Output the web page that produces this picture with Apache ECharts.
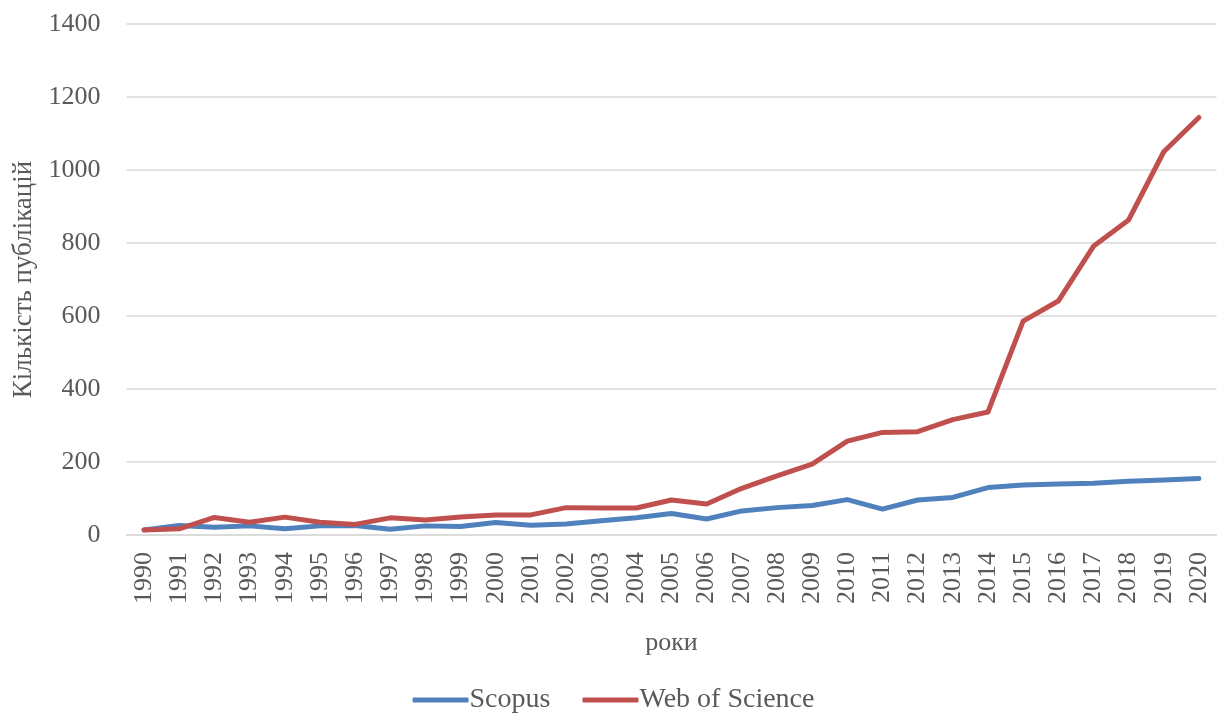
<!DOCTYPE html>
<html><head><meta charset="utf-8">
<script src="https://cdn.jsdelivr.net/npm/echarts@6/dist/echarts.min.js"></script>
<style>html,body{margin:0;padding:0;background:#fff}#c{width:1227px;height:713px}</style>
</head><body><div id="c"></div>
<script>
const years = ['1990','1991','1992','1993','1994','1995','1996','1997','1998','1999','2000','2001','2002','2003','2004','2005','2006','2007','2008','2009','2010','2011','2012','2013','2014','2015','2016','2017','2018','2019','2020'];
const scopus = [14,26,21,25,17,25,26,16,25,23,34,27,30,39,47,59,44,66,75,81,97,71,96,103,130,137,140,142,147,151,155];
const wos = [14,17,48,35,49,35,29,47,41,49,55,55,75,74,74,96,85,128,162,194,257,281,283,316,337,586,641,791,863,1050,1144];
const yTicks = {min:0, max:1400, interval:200};

const font = '"Liberation Serif", "Times New Roman", serif';
const chart = echarts.init(document.getElementById('c'));
chart.setOption({
  animation:false,
  backgroundColor:'#fff',
  grid:{left:126.5,right:10.5,top:24,bottom:178,containLabel:false,outerBoundsMode:'none'},
  legend:{top:681,left:'center',itemWidth:56,itemHeight:5,itemGap:32,icon:'roundRect',
    textStyle:{fontFamily:font,fontSize:28,color:'#595959',padding:[0,0,0,-4]},
    data:['Scopus','Web of Science']},
  xAxis:{type:'category',data:years,boundaryGap:true,
    name:'роки',nameLocation:'middle',nameGap:95,
    nameTextStyle:{fontFamily:font,fontSize:26,color:'#595959'},
    axisLine:{lineStyle:{color:'#d9d9d9',width:1.5}},axisTick:{show:false},
    axisLabel:{rotate:90,margin:17,fontFamily:font,fontSize:26,color:'#595959'}},
  yAxis:{type:'value',min:yTicks.min,max:yTicks.max,interval:yTicks.interval,
    name:'Кількість публікацій',nameLocation:'middle',nameGap:87,
    nameTextStyle:{fontFamily:font,fontSize:27,color:'#595959'},
    axisLine:{show:false},axisTick:{show:false},
    axisLabel:{margin:26,fontFamily:font,fontSize:26,color:'#595959',formatter:v=>String(v)},
    splitLine:{lineStyle:{color:'#d9d9d9',width:1.5}}},
  series:[
    {name:'Scopus',type:'line',data:scopus,symbol:'none',lineStyle:{color:'#4F81BD',width:5,cap:'round',join:'round'},itemStyle:{color:'#4F81BD'}},
    {name:'Web of Science',type:'line',data:wos,symbol:'none',lineStyle:{color:'#C0504D',width:5,cap:'round',join:'round'},itemStyle:{color:'#C0504D'}}
  ]
});
</script></body></html>
